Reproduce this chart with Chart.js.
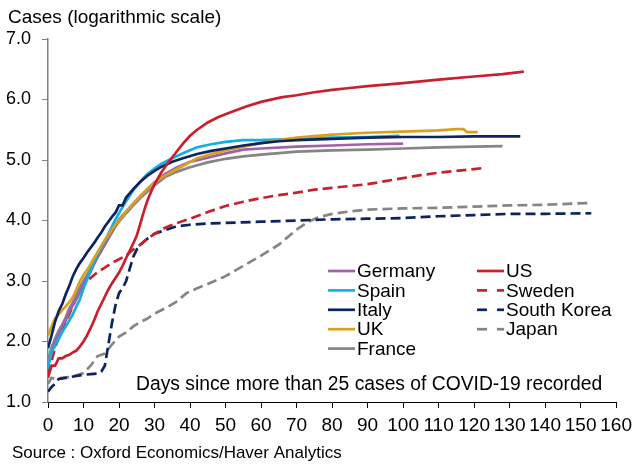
<!DOCTYPE html>
<html>
<head>
<meta charset="utf-8">
<script src="https://cdn.jsdelivr.net/npm/chart.js@4/dist/chart.umd.min.js"></script>
<style>
  html, body { margin: 0; padding: 0; background: #fff; }
  #wrap { width: 638px; height: 467px; }
</style>
</head>
<body>
<div id="wrap"><canvas id="casesChart" width="638" height="467"></canvas></div>
<script>
// Texts
const titleText = 'Cases (logarithmic scale)';
const noteText = 'Days since more than 25 cases of COVID-19 recorded';
const sourceText = 'Source : Oxford Economics/Haver Analytics';

// Axis ticks
const xTicks = [0, 10, 20, 30, 40, 50, 60, 70, 80, 90, 100, 110, 120, 130, 140, 150, 160];
const yTicks = [1.0, 2.0, 3.0, 4.0, 5.0, 6.0, 7.0];

// Series (days since 25th case, log10 of cases)
const germanyDays = [0,1,2,3,4,5,6,7,8,9,10,11,12,13,14,15,16,17,18,19,20,22,24,26,28,30,33,36,40,45,50,55,60,70,80,90,100];
const germanyLog  = [1.6,1.8,2.0,2.12,2.25,2.35,2.5,2.6,2.7,2.82,2.95,3.05,3.15,3.28,3.4,3.5,3.62,3.72,3.82,3.92,4.02,4.15,4.28,4.4,4.52,4.63,4.77,4.87,4.97,5.04,5.11,5.17,5.19,5.22,5.24,5.26,5.27];

const spainDays = [0,1,2,3,4,5,6,7,8,9,10,11,12,13,14,15,16,17,18,19,20,21,22,23,24,25,26,27,28,30,32,35,38,42,46,50,55,60,70,80,90,99];
const spainLog  = [1.55,1.85,1.92,2.05,2.15,2.25,2.35,2.45,2.58,2.7,2.88,3.02,3.18,3.32,3.45,3.56,3.66,3.78,3.9,4.02,4.12,4.22,4.32,4.41,4.5,4.57,4.64,4.71,4.77,4.86,4.94,5.03,5.11,5.21,5.26,5.3,5.33,5.33,5.35,5.37,5.38,5.4];

const italyDays = [0,1,2,3,4,5,6,7,8,9,10,11,12,13,14,15,16,17,18,19,20,21,22,23,24,25,26,27,28,30,32,35,38,42,46,50,55,60,65,70,80,90,100,110,120,133];
const italyLog  = [1.89,2.1,2.33,2.5,2.62,2.78,2.92,3.08,3.2,3.3,3.38,3.47,3.55,3.63,3.72,3.8,3.9,3.98,4.06,4.13,4.25,4.25,4.38,4.45,4.52,4.58,4.64,4.69,4.74,4.82,4.89,4.97,5.03,5.1,5.15,5.19,5.24,5.28,5.31,5.33,5.35,5.37,5.38,5.38,5.39,5.39];

const ukDays = [0,1,2,3,4,5,6,7,8,9,10,11,12,13,14,15,16,17,18,19,20,22,24,26,28,30,32,35,38,42,46,50,55,60,65,70,80,90,100,110,115,117,118,121];
const ukLog  = [2.1,2.25,2.38,2.45,2.52,2.58,2.65,2.73,2.86,3.0,3.1,3.18,3.28,3.38,3.48,3.58,3.68,3.76,3.85,3.93,4.0,4.15,4.28,4.4,4.52,4.62,4.71,4.81,4.9,5.03,5.1,5.16,5.22,5.28,5.33,5.37,5.42,5.45,5.47,5.49,5.51,5.51,5.46,5.46];

const franceDays = [0,1,2,3,4,5,6,7,8,9,10,11,12,13,14,15,16,17,18,19,20,22,24,26,28,30,33,36,40,45,50,55,60,70,80,90,100,110,120,128];
const franceLog  = [1.69,1.9,2.05,2.18,2.28,2.4,2.55,2.65,2.78,2.9,3.0,3.1,3.2,3.3,3.4,3.5,3.6,3.7,3.8,3.9,3.98,4.12,4.25,4.37,4.48,4.58,4.72,4.8,4.88,4.96,5.02,5.06,5.09,5.14,5.16,5.17,5.19,5.21,5.22,5.23];

const usDays = [0,1,2,3,4,5,6,7,8,9,10,11,12,13,14,15,16,17,18,19,20,21,22,23,24,25,26,27,28,29,30,32,34,36,38,40,42,45,48,52,56,60,66,70,75,80,85,90,100,110,120,128,134];
const usLog  = [1.4,1.6,1.6,1.72,1.72,1.76,1.78,1.82,1.85,1.92,2.0,2.1,2.22,2.35,2.5,2.62,2.74,2.86,2.96,3.05,3.14,3.25,3.38,3.5,3.62,3.75,3.95,4.15,4.33,4.47,4.6,4.8,4.97,5.12,5.27,5.4,5.5,5.62,5.71,5.8,5.89,5.96,6.04,6.07,6.12,6.16,6.19,6.22,6.27,6.33,6.38,6.42,6.46];

const swedenDays = [0,2,4,6,8,10,12,14,16,18,20,22,24,26,28,30,33,36,40,45,50,55,60,65,70,75,80,85,90,95,100,105,110,115,120,123];
const swedenLog  = [1.45,1.9,2.2,2.45,2.72,2.93,3.05,3.15,3.22,3.3,3.36,3.42,3.52,3.6,3.7,3.78,3.88,3.95,4.03,4.14,4.24,4.31,4.37,4.42,4.46,4.51,4.54,4.57,4.6,4.65,4.7,4.75,4.79,4.82,4.85,4.87];

const koreaDays = [0,1,2,3,5,8,10,12,14,15,16,17,18,19,20,21,22,23,24,25,26,28,30,33,36,40,45,50,60,70,80,90,100,110,120,130,140,153];
const koreaLog  = [1.17,1.25,1.3,1.38,1.4,1.43,1.45,1.46,1.47,1.5,1.6,1.95,2.3,2.6,2.8,2.88,3.0,3.2,3.4,3.52,3.6,3.7,3.78,3.84,3.9,3.93,3.95,3.96,3.98,4.0,4.02,4.03,4.04,4.07,4.09,4.11,4.11,4.12];

const japanDays = [0,1,2,4,6,8,10,12,14,16,18,20,22,24,26,28,30,33,36,39,42,45,50,55,60,65,70,73,76,80,85,90,100,110,120,130,140,148,153];
const japanLog  = [1.3,1.4,1.38,1.4,1.41,1.44,1.48,1.6,1.76,1.8,1.95,2.08,2.15,2.25,2.32,2.38,2.46,2.55,2.65,2.8,2.88,2.95,3.08,3.25,3.42,3.6,3.85,3.97,4.05,4.11,4.15,4.18,4.2,4.21,4.23,4.25,4.26,4.28,4.29];

const FONT = '"Liberation Sans", Arial, sans-serif';
const RED = '#C8202C', NAVY = '#0C2461', GREY = '#858585';

function pts(days, vals) {
    return days.map((d, i) => ({ x: d, y: vals[i] }));
}
function series(label, days, vals, color, dashed) {
    return {
        label: label,
        data: pts(days, vals),
        borderColor: color,
        backgroundColor: color,
        borderWidth: 2.7,
        borderDash: dashed ? [10, 5] : [],
        pointRadius: 0,
        tension: 0,
        fill: false
    };
}

const datasets = [
    series('US', usDays, usLog, RED, false),
    series('Italy', italyDays, italyLog, NAVY, false),
    series('UK', ukDays, ukLog, '#D6A21E', false),
    series('Spain', spainDays, spainLog, '#12B0E2', false),
    series('Germany', germanyDays, germanyLog, '#A061A8', false),
    series('France', franceDays, franceLog, GREY, false),
    series('Sweden', swedenDays, swedenLog, RED, true),
    series('South Korea', koreaDays, koreaLog, NAVY, true),
    series('Japan', japanDays, japanLog, GREY, true)
];

// legend columns as in the original
const legendLeft = ['Germany', 'Spain', 'Italy', 'UK', 'France'];
const legendRight = ['US', 'Sweden', 'South Korea', 'Japan'];

const overlay = {
    id: 'overlay',
    afterDraw(chart) {
        const ctx = chart.ctx;
        ctx.save();
        ctx.fillStyle = '#000';
        ctx.textAlign = 'left';
        ctx.textBaseline = 'alphabetic';
        ctx.font = '19px ' + FONT;
        ctx.fillText(titleText, 8, 23);
        ctx.font = '19.3px ' + FONT;
        ctx.fillText(noteText, 136, 390);
        ctx.font = '17px ' + FONT;
        ctx.fillText(sourceText, 12, 458);

        function drawCol(names, x0) {
            names.forEach((name, i) => {
                const ds = chart.data.datasets.find(d => d.label === name);
                const y = 271 + i * 19.4;
                ctx.strokeStyle = ds.borderColor;
                ctx.lineWidth = 2.7;
                ctx.setLineDash(ds.borderDash.length ? [10, 10] : []);
                ctx.beginPath();
                ctx.moveTo(x0, y);
                ctx.lineTo(x0 + 27, y);
                ctx.stroke();
                ctx.setLineDash([]);
                ctx.font = '19px ' + FONT;
                ctx.textBaseline = 'middle';
                ctx.fillText(name, x0 + 29, y + 1);
            });
        }
        drawCol(legendLeft, 328);
        drawCol(legendRight, 477);
        ctx.restore();
    }
};

const ctx = document.getElementById('casesChart').getContext('2d');
const casesChart = new Chart(ctx, {
    type: 'line',
    data: { datasets: datasets },
    options: {
        responsive: false,
        animation: false,
        layout: { padding: { top: 39, right: 19, bottom: 0, left: 0 } },
        plugins: {
            legend: { display: false },
            tooltip: { enabled: false }
        },
        scales: {
            x: {
                type: 'linear',
                min: xTicks[0],
                max: xTicks[xTicks.length - 1],
                afterBuildTicks: (scale) => { scale.ticks = xTicks.map(v => ({ value: v })); },
                afterFit: (scale) => { scale.height = 65; },
                ticks: { color: '#000', font: { family: FONT, size: 19 }, padding: 6, maxRotation: 0 },
                grid: { drawOnChartArea: false, tickLength: 6, color: '#000' },
                border: { color: '#000', width: 1 }
            },
            y: {
                min: yTicks[0],
                max: yTicks[yTicks.length - 1],
                afterBuildTicks: (scale) => { scale.ticks = yTicks.map(v => ({ value: v })); },
                afterFit: (scale) => { scale.width = 48; },
                ticks: {
                    color: '#000',
                    font: { family: FONT, size: 18 },
                    padding: 11,
                    callback: (v) => Number(v).toFixed(1)
                },
                grid: { drawOnChartArea: false, tickLength: 6, color: '#808080' },
                border: { color: '#808080', width: 1.5 }
            }
        }
    },
    plugins: [overlay]
});
</script>
</body>
</html>
